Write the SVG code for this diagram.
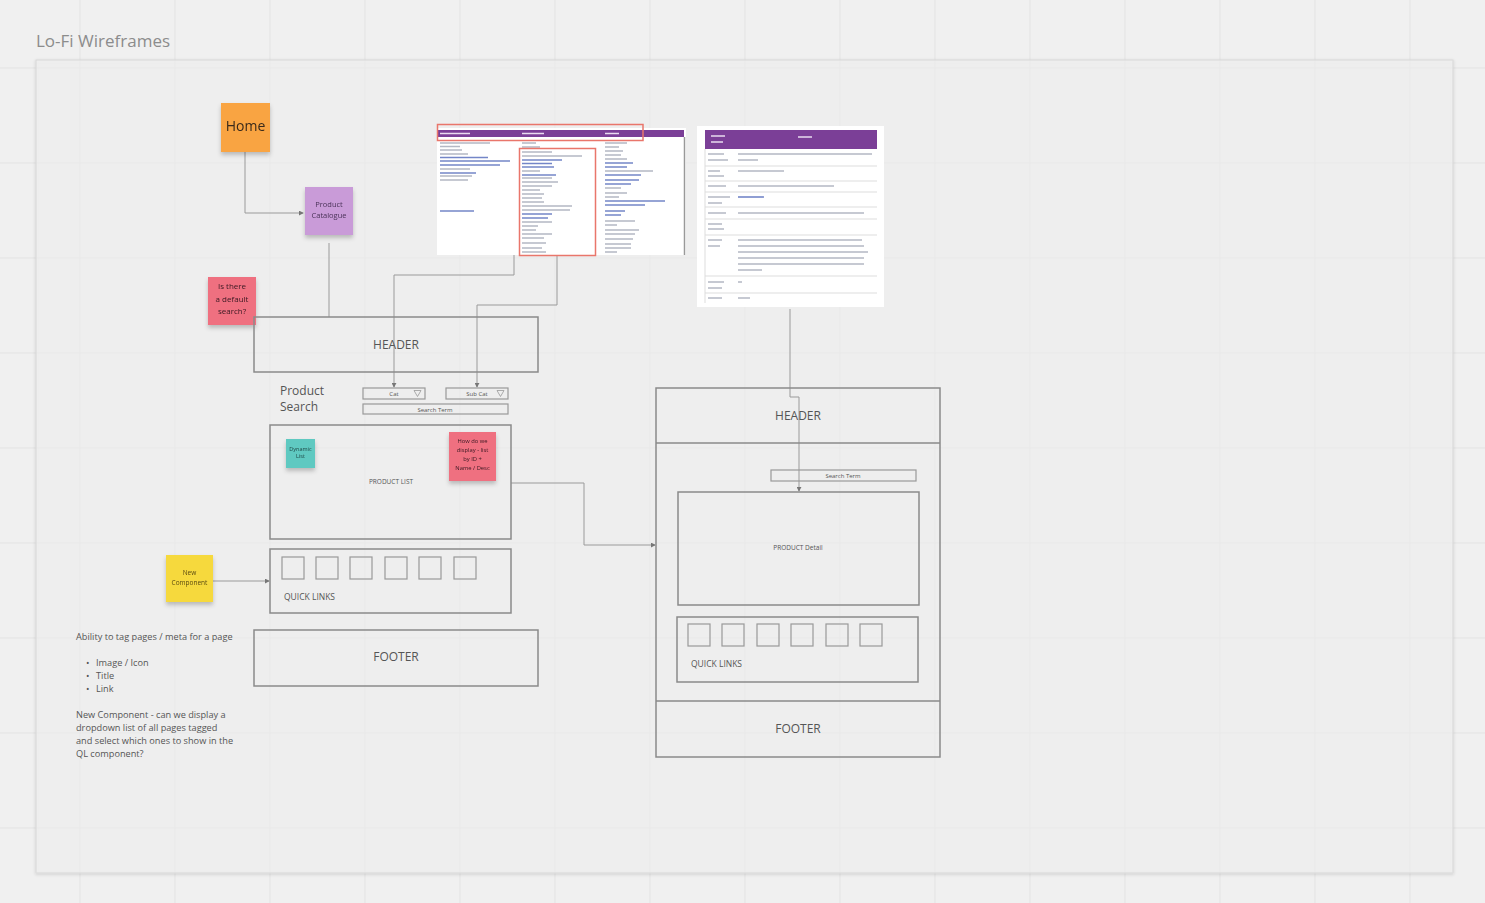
<svg xmlns="http://www.w3.org/2000/svg" width="1485" height="903" viewBox="0 0 1485 903">
<defs>
<style>
.t{font-family:"Open Sans","Liberation Sans",sans-serif;}
.wf{fill:none;stroke:#8a8a8a;stroke-width:1.5;}
.box{fill:none;stroke:#999;stroke-width:1.2;}
.conn{fill:none;stroke:#9a9a9a;stroke-width:1;}
.lbl{font-family:"Open Sans","Liberation Sans",sans-serif;fill:#555;text-anchor:middle;}
.grid{stroke:#e3e3e3;stroke-width:1;}
.sheetg{fill:none;stroke:#b4b8c4;stroke-width:1.6;}
.sheetb{fill:none;stroke:#7486c8;stroke-width:1.6;}
.sheetw{fill:none;stroke:#e9dcf0;stroke-width:1.6;}
</style>
<filter id="sh" x="-20%" y="-20%" width="140%" height="150%">
<feDropShadow dx="0" dy="3" stdDeviation="2" flood-color="#000" flood-opacity="0.22"/>
</filter>
<filter id="fsh" x="-2%" y="-2%" width="104%" height="104%">
<feDropShadow dx="0" dy="1" stdDeviation="1.5" flood-color="#000" flood-opacity="0.18"/>
</filter>
<marker id="arr" viewBox="0 0 6 6" refX="5" refY="3" markerWidth="5" markerHeight="5" orient="auto">
<path d="M0,0 L6,3 L0,6 z" fill="#777"/>
</marker>
</defs>

<rect x="0" y="0" width="1485" height="903" fill="#f0f0f0"/>
<g id="grid">
<path class="grid" d="M80,0V903 M175,0V903 M270,0V903 M365,0V903 M460,0V903 M555,0V903 M650,0V903 M745,0V903 M840,0V903 M935,0V903 M1030,0V903 M1125,0V903 M1220,0V903 M1315,0V903 M1410,0V903"/>
<path class="grid" d="M0,68H1485 M0,163H1485 M0,258H1485 M0,353H1485 M0,448H1485 M0,543H1485 M0,638H1485 M0,733H1485 M0,828H1485"/>
</g>

<text class="t" x="36" y="47" font-size="17" fill="#8c8c8c">Lo-Fi Wireframes</text>
<g id="frame">
<rect x="36" y="60" width="1417" height="813" fill="#f3f3f3" fill-opacity="0.6" stroke="#d8d8d8" stroke-width="1" filter="url(#fsh)"/>
</g>

<!-- connectors -->
<g id="connectors">
<path class="conn" d="M245,152 V213 H303" marker-end="url(#arr)"/>
<path class="conn" d="M329,243 V317"/>
<path class="conn" d="M514,253 V275 H394 V387" marker-end="url(#arr)"/>
<path class="conn" d="M557,253 V305 H477 V387" marker-end="url(#arr)"/>
<path class="conn" d="M213,581 H269" marker-end="url(#arr)"/>
<path class="conn" d="M511,483 H584 V545 H655" marker-end="url(#arr)"/>
<path class="conn" d="M790,309 V397 H799 V491" marker-end="url(#arr)"/>
</g>

<!-- spreadsheet image 1 -->
<g id="sheet1">
<rect x="437" y="128" width="249" height="127" fill="#fff"/>
<rect x="437" y="130" width="247" height="7" fill="#7b3f97"/>
<path class="sheetw" d="M440,133.5h30 M522,133.5h22 M605,133.5h14"/>
<line x1="684.5" y1="137" x2="684.5" y2="255" stroke="#999" stroke-width="1.5"/>
<path class="sheetg" d="M440,143h50 M440,146.5h20 M440,150h22 M440,154h28 M440,169h30 M440,176h32 M440,180h28"/>
<path class="sheetb" d="M440,157.5h48 M440,161h70 M440,165h60 M440,173h36 M440,211h34"/>
<path class="sheetg" d="M522,143h14 M522,147h18 M522,152h30 M522,156h60 M522,171h18 M522,178h30 M522,182h36 M522,186h30 M522,190h18 M522,194h22 M522,198h20 M522,202h22 M522,206h50 M522,210h48 M522,222h30 M522,226h16 M522,230h14 M522,234h30 M522,238h22 M522,243h24 M522,248h20 M522,252h24"/>
<path class="sheetb" d="M522,160h40 M522,163.5h30 M522,167h32 M522,175h34 M522,214h30 M522,218h26"/>
<path class="sheetg" d="M605,143h22 M605,147h14 M605,151h18 M605,155h16 M605,159h22 M605,171h48 M605,188h16 M605,193h22 M605,197h14 M605,221h30 M605,225h12 M605,230h34 M605,234h30 M605,239h28 M605,244h26 M605,248h26 M605,252h12"/>
<path class="sheetb" d="M605,163h28 M605,167h22 M605,175h36 M605,180h34 M605,184h26 M605,201h60 M605,205h40 M605,211h20 M605,215h16"/>
<rect x="437.5" y="124.5" width="205.5" height="16" fill="none" stroke="#e9766b" stroke-width="1.5"/>
<rect x="519.5" y="148.5" width="76" height="107" fill="none" stroke="#e9766b" stroke-width="1.5"/>
</g>

<!-- spreadsheet image 2 -->
<g id="sheet2">
<rect x="697" y="126" width="187" height="181" fill="#fff"/>
<rect x="705" y="130" width="172" height="19" fill="#7b3f97"/>
<path class="sheetw" d="M711,136h14 M711,142h12 M798,137h14"/>
<path fill="none" stroke="#ddd" stroke-width="1" d="M705,149V303 M705,166H877 M705,181H877 M705,192H877 M705,207H877 M705,219H877 M705,235H877 M705,276H877 M705,293H877"/>
<path class="sheetg" d="M708,154h16 M708,160h20 M708,171h12 M708,176h16 M708,186h18 M708,197h22 M708,203h14 M708,213h18 M708,224h14 M708,229h16 M708,240h14 M708,246h12 M708,282h16 M708,288h14 M708,298h14"/>
<path class="sheetg" d="M738,154h134 M738,160h20 M738,171h46 M738,186h96 M738,213h126 M738,240h124 M738,246h126 M738,252h130 M738,258h126 M738,264h126 M738,270h24 M738,282h4 M738,298h12"/>
<path class="sheetb" d="M738,197h26"/>
</g>

<!-- sticky notes -->
<g id="home" filter="url(#sh)">
<rect x="221" y="103" width="49" height="49" fill="#f9a443"/>
<text class="t" x="245.5" y="131" font-size="14" fill="#3a2a1a" text-anchor="middle">Home</text>
</g>
<g id="product-catalogue" filter="url(#sh)">
<rect x="305" y="187" width="48" height="48" fill="#c99bd8"/>
<text class="t" x="329" y="207" font-size="7.5" fill="#4a3358" text-anchor="middle">Product</text>
<text class="t" x="329" y="218" font-size="7.5" fill="#4a3358" text-anchor="middle">Catalogue</text>
</g>
<g id="default-search" filter="url(#sh)">
<rect x="208" y="277" width="48" height="48" fill="#ef6f80"/>
<text class="t" x="232" y="289" font-size="8" fill="#3a1a22" text-anchor="middle">Is there</text>
<text class="t" x="232" y="302" font-size="8" fill="#3a1a22" text-anchor="middle">a default</text>
<text class="t" x="232" y="314" font-size="8" fill="#3a1a22" text-anchor="middle">search?</text>
</g>
<g id="new-component" filter="url(#sh)">
<rect x="166" y="555" width="47" height="47" fill="#f6d93e"/>
<text class="t" x="189.5" y="575" font-size="6.5" fill="#5a4a10" text-anchor="middle">New</text>
<text class="t" x="189.5" y="585" font-size="6.5" fill="#5a4a10" text-anchor="middle">Component</text>
</g>

<!-- left wireframe -->
<g id="left-header">
<rect class="wf" x="254" y="317" width="284" height="55"/>
<text class="lbl" x="396" y="349" font-size="12">HEADER</text>
</g>
<g id="product-search">
<text class="t" x="280" y="395" font-size="12" fill="#555">Product</text>
<text class="t" x="280" y="411" font-size="12" fill="#555">Search</text>
<rect class="box" x="363" y="388" width="62" height="11"/>
<text class="lbl" x="394" y="396" font-size="6">Cat</text>
<path d="M414,390.5 h7 l-3.5,6 z" fill="none" stroke="#999" stroke-width="0.8"/>
<rect class="box" x="446" y="388" width="62" height="11"/>
<text class="lbl" x="477" y="396" font-size="6">Sub Cat</text>
<path d="M497,390.5 h7 l-3.5,6 z" fill="none" stroke="#999" stroke-width="0.8"/>
<rect class="box" x="363" y="404" width="145" height="10"/>
<text class="lbl" x="435" y="411.5" font-size="6">Search Term</text>
</g>
<g id="product-list">
<rect class="wf" x="270" y="425" width="241" height="114"/>
<text class="lbl" x="391" y="484" font-size="6.5">PRODUCT LIST</text>
</g>
<g id="dynamic-list" filter="url(#sh)">
<rect x="286" y="439" width="29" height="29" fill="#5fc9c1"/>
<text class="t" x="300.5" y="451" font-size="5.5" fill="#204a48" text-anchor="middle">Dynamic</text>
<text class="t" x="300.5" y="458" font-size="5.5" fill="#204a48" text-anchor="middle">List</text>
</g>
<g id="how-display" filter="url(#sh)">
<rect x="449" y="432" width="47" height="49" fill="#ef6f80"/>
<text class="t" x="472.5" y="443" font-size="5.8" fill="#3a1a22" text-anchor="middle">How do we</text>
<text class="t" x="472.5" y="452" font-size="5.8" fill="#3a1a22" text-anchor="middle">display - list</text>
<text class="t" x="472.5" y="461" font-size="5.8" fill="#3a1a22" text-anchor="middle">by ID +</text>
<text class="t" x="472.5" y="470" font-size="5.8" fill="#3a1a22" text-anchor="middle">Name / Desc</text>
</g>
<g id="left-quick-links">
<rect class="wf" x="270" y="549" width="241" height="64"/>
<rect class="box" x="282" y="557" width="22" height="22"/>
<rect class="box" x="316" y="557" width="22" height="22"/>
<rect class="box" x="350" y="557" width="22" height="22"/>
<rect class="box" x="385" y="557" width="22" height="22"/>
<rect class="box" x="419" y="557" width="22" height="22"/>
<rect class="box" x="454" y="557" width="22" height="22"/>
<text class="t" x="284" y="600" font-size="8.5" fill="#555">QUICK LINKS</text>
</g>
<g id="left-footer">
<rect class="wf" x="254" y="630" width="284" height="56"/>
<text class="lbl" x="396" y="661" font-size="12">FOOTER</text>
</g>

<!-- notes text -->
<g id="notes">
<text class="t" font-size="9.2" fill="#555">
<tspan x="76" y="640">Ability to tag pages / meta for a page</tspan>
<tspan x="86" y="666">•</tspan><tspan x="96" y="666">Image / Icon</tspan>
<tspan x="86" y="679">•</tspan><tspan x="96" y="679">Title</tspan>
<tspan x="86" y="692">•</tspan><tspan x="96" y="692">Link</tspan>
<tspan x="76" y="718">New Component - can we display a</tspan>
<tspan x="76" y="731">dropdown list of all pages tagged</tspan>
<tspan x="76" y="744">and select which ones to show in the</tspan>
<tspan x="76" y="757">QL component?</tspan>
</text>
</g>

<!-- right wireframe -->
<g id="right-page">
<rect class="wf" x="656" y="388" width="284" height="369"/>
<line class="wf" x1="656" y1="443" x2="940" y2="443"/>
<line class="wf" x1="656" y1="701" x2="940" y2="701"/>
<text class="lbl" x="798" y="420" font-size="12">HEADER</text>
<text class="lbl" x="798" y="733" font-size="12">FOOTER</text>
</g>
<g id="right-search">
<rect class="box" x="771" y="470" width="145" height="11"/>
<text class="lbl" x="843" y="478" font-size="6">Search Term</text>
</g>
<g id="product-detail">
<rect class="wf" x="678" y="492" width="241" height="113"/>
<text class="lbl" x="798" y="550" font-size="6.5">PRODUCT Detail</text>
</g>
<g id="right-quick-links">
<rect class="wf" x="677" y="617" width="241" height="65"/>
<rect class="box" x="688" y="624" width="22" height="22"/>
<rect class="box" x="722" y="624" width="22" height="22"/>
<rect class="box" x="757" y="624" width="22" height="22"/>
<rect class="box" x="791" y="624" width="22" height="22"/>
<rect class="box" x="826" y="624" width="22" height="22"/>
<rect class="box" x="860" y="624" width="22" height="22"/>
<text class="t" x="691" y="667" font-size="8.5" fill="#555">QUICK LINKS</text>
</g>
</svg>
